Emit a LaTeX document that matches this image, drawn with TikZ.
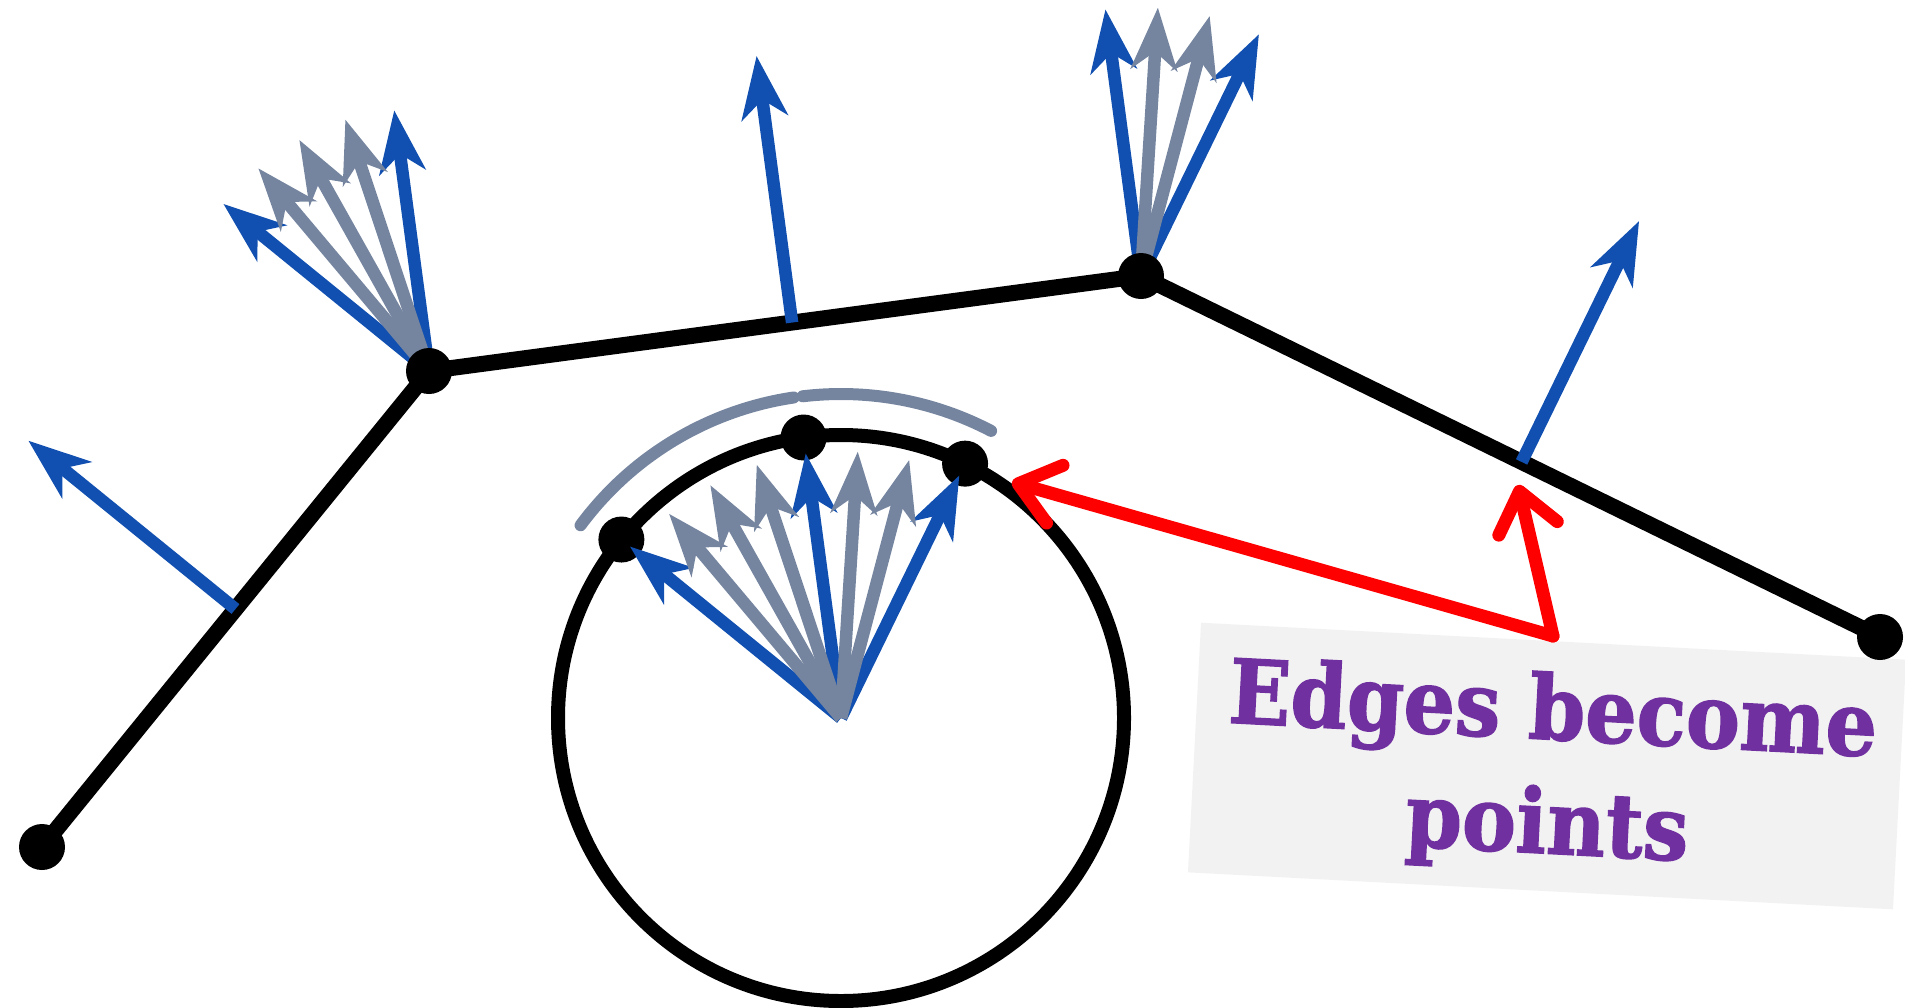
\documentclass[tikz,border=0pt]{standalone}
\usepackage{fontspec}
\newfontfamily\labelfont[FakeStretch=0.91,FakeBold=1.5]{DejaVu Serif}
\usetikzlibrary{arrows.meta,calc}
\definecolor{nblue}{HTML}{1150B0}
\definecolor{ngray}{HTML}{7585A0}
\definecolor{npurple}{HTML}{7030A0}
\definecolor{boxgray}{HTML}{F2F2F2}
\begin{document}
\begin{tikzpicture}[x=1pt,y=-1pt,
  edgeline/.style={line width=16pt, line join=round},
  vdot/.style={circle, fill=black, minimum size=46pt, inner sep=0pt},
  nrm/.style={line width=12.5pt, -{Stealth[length=62pt,width=46pt,inset=18pt]}},
  bnrm/.style={nrm, draw=nblue, fill=nblue},
  gnrm/.style={nrm, draw=ngray, fill=ngray},
  gaussarc/.style={draw=ngray, line width=12pt, line cap=round},
  redarrow/.style={draw=red, line width=13pt, line cap=round, line join=round, -{Straight Barb[length=38pt,width=60pt,round]}},
  labelbox/.style={fill=boxgray, rotate=-3, minimum width=706pt, minimum height=250pt, inner sep=0pt},
  labeltext/.style={rotate=-3, align=center, text=npurple, font=\labelfont\bfseries\fontsize{89}{114}\selectfont}
]
\useasboundingbox (0,0) rectangle (1905,1007);
% label box
\node[labelbox] (box) at (1547,766) {};
\node[labeltext] (label) at (1550,772) {Edges become\\points};
% polyline
\coordinate (A) at (42,847);
\coordinate (B) at (429,371);
\coordinate (C) at (1141,276);
\coordinate (D) at (1880,637);
\coordinate (O) at (841,718);
\draw[edgeline] (A) -- (B) -- (C) -- (D);
% edge normals
\coordinate (mAB) at ($(A)!0.5!(B)$);
\coordinate (mBC) at ($(B)!0.51!(C)$);
\coordinate (mCD) at ($(C)!0.515!(D)$);
\draw[bnrm] (mAB) -- ++(140.9:267pt);
\draw[bnrm] (mBC) -- ++(97.6:269pt);
\draw[bnrm] (mCD) -- ++(64.0:268pt);
% vertex fans
\draw[bnrm] (B) -- ++(140.9:265pt);
\draw[bnrm] (B) -- ++(97.6:263pt);
\foreach \a in {130.1,119.3,108.4} \draw[gnrm] (B) -- ++(\a:265pt);
\draw[bnrm] (C) -- ++(97.6:269pt);
\draw[bnrm] (C) -- ++(64.0:269pt);
\foreach \a in {86.4,75.2} \draw[gnrm] (C) -- ++(\a:269pt);
% vertex dots
\node[vdot] (dA) at (A) {};
\node[vdot] (dB) at (B) {};
\node[vdot] (dC) at (C) {};
\node[vdot] (dD) at (D) {};
% Gauss circle
\draw[line width=14pt] (O) circle[radius=283pt];
\draw[gaussarc] ($(O)+(143.5:324pt)$) arc[start angle=143.5, end angle=98.4, radius=324pt];
\draw[gaussarc] ($(O)+(96.8:324pt)$) arc[start angle=96.8, end angle=62.4, radius=324pt];
\node[vdot] (g1) at ($(O)+(140.9:283pt)$) {};
\node[vdot] (g2) at ($(O)+(97.6:283pt)$) {};
\node[vdot] (g3) at ($(O)+(64.0:283pt)$) {};
\draw[bnrm] (O) -- ++(140.9:272pt);
\draw[bnrm] (O) -- ++(97.6:267pt);
\draw[bnrm] (O) -- ++(64.0:270pt);
\foreach \a in {130.1,119.3,108.4,86.4,75.2} \draw[gnrm] (O) -- ++(\a:267pt);
% red pointers
\coordinate (rj) at (1553,636);
\coordinate (rt1) at (1012,482);
\coordinate (rt2) at (1518,485);
\draw[redarrow] (rj) -- (rt1);
\draw[redarrow] (rj) -- (rt2);
\end{tikzpicture}
\end{document}
